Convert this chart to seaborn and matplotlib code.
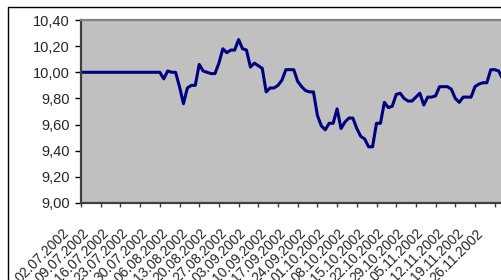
import numpy as np
import pandas as pd
import matplotlib
matplotlib.use("Agg")
import matplotlib.pyplot as plt
import matplotlib.transforms as mtransforms
from matplotlib.patches import Rectangle
import seaborn as sns

# daily prices (business days from 02.07.2002)
START_DATE = "2002-07-02"
PRICES = [
    10.00, 10.00, 10.00, 10.00, 10.00, 10.00, 10.00, 10.00, 10.00, 10.00,
    10.00, 10.00, 10.00, 10.00, 10.00, 10.00, 10.00, 10.00, 10.00, 10.00,
    10.00, 9.95, 10.01, 10.00, 10.00, 9.89, 9.76, 9.88, 9.90, 9.90,
    10.06, 10.01, 10.00, 9.99, 9.99, 10.07, 10.18, 10.15, 10.17, 10.17,
    10.25, 10.18, 10.17, 10.04, 10.07, 10.05, 10.03, 9.85, 9.88, 9.88,
    9.90, 9.94, 10.02, 10.02, 10.02, 9.93, 9.89, 9.86, 9.85, 9.85,
    9.67, 9.59, 9.56, 9.61, 9.61, 9.72, 9.57, 9.62, 9.65, 9.65,
    9.57, 9.51, 9.49, 9.43, 9.43, 9.61, 9.61, 9.77, 9.73, 9.74,
    9.83, 9.84, 9.80, 9.78, 9.78, 9.81, 9.84, 9.75, 9.81, 9.81,
    9.82, 9.89, 9.89, 9.89, 9.87, 9.80, 9.77, 9.81, 9.81, 9.81,
    9.89, 9.91, 9.92, 9.92, 10.02, 10.02, 10.01, 9.95,
]
Y_TICKS = [9.0, 9.2, 9.4, 9.6, 9.8, 10.0, 10.2, 10.4]
LABEL_EVERY = 5

dates = pd.bdate_range(start=START_DATE, periods=len(PRICES))
df = pd.DataFrame({"idx": np.arange(len(PRICES)), "price": PRICES})

sns.set_style("white")
plt.rcParams["font.family"] = ["Liberation Sans", "DejaVu Sans"]

W, H = 501, 280
fig = plt.figure(figsize=(W / 100, H / 100), dpi=100)
fig.patch.set_facecolor("white")

# outer chart frame (cut off on the right and bottom, as in the original)
fig.patches.append(Rectangle((8 / W, -0.1), 1.2, (H - 7) / H + 0.1,
                             transform=fig.transFigure, fill=False,
                             edgecolor="black", linewidth=1.0))

# plot area runs past the right edge of the picture
left, right, top, bottom = 81, 525, 20, 203
ax = fig.add_axes([left / W, (H - bottom) / H, (right - left) / W, (bottom - top) / H])
ax.set_facecolor("#C0C0C0")

sns.lineplot(data=df, x="idx", y="price", ax=ax, color="#000080",
             linewidth=2.2, legend=False)

ax.set_xlim(0, (right - left) / 3.94)
ax.set_ylim(9.0, 10.4)
ax.set_yticks(Y_TICKS)
ax.set_yticklabels([f"{v:.2f}".replace(".", ",") for v in Y_TICKS], fontsize=10.5)

tick_idx = list(range(0, len(dates), LABEL_EVERY))
ax.set_xticks(tick_idx)
ax.set_xticklabels([dates[i].strftime("%d.%m.%Y") for i in tick_idx],
                   fontsize=10, rotation=45, ha="right", va="center",
                   rotation_mode="anchor")
ax.set_xlabel("")
ax.set_ylabel("")

ax.tick_params(axis="y", direction="out", length=4, width=1, pad=4,
               color="black", left=True)
ax.tick_params(axis="x", direction="out", length=3, width=1, pad=0,
               color="#404040", bottom=True)

shift = mtransforms.ScaledTranslation(-14 / 100, -24 / 100, fig.dpi_scale_trans)
for lab in ax.get_xticklabels():
    lab.set_transform(lab.get_transform() + shift)

for side in ["left", "bottom"]:
    ax.spines[side].set_color("#404040")
    ax.spines[side].set_linewidth(1.6)
ax.spines["top"].set_color("#808080")
ax.spines["top"].set_linewidth(1.6)
ax.spines["right"].set_visible(False)

fig.savefig("out.png", dpi=100)
